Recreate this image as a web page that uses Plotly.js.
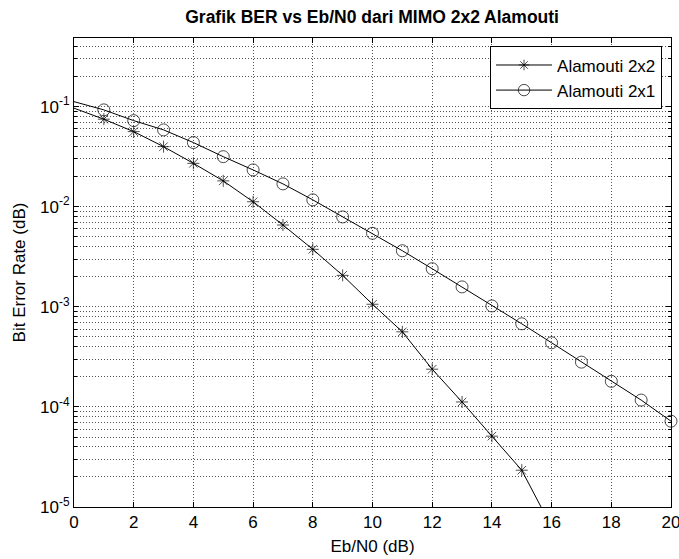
<!DOCTYPE html>
<html>
<head>
<meta charset="utf-8">
<script src="https://cdn.plot.ly/plotly-3.0.1.min.js"></script>
<style>html,body{margin:0;padding:0;background:#fff;}#chart{width:679px;height:559px;}</style>
</head>
<body>
<div id="chart"></div>
<script>
// Eb/N0 values (dB)
var ebno = [0,1,2,3,4,5,6,7,8,9,10,11,12,13,14,15,16,17,18,19,20];
// Alamouti 2x2 BER (last point falls below the visible range)
var ebno22 = [0,1,2,3,4,5,6,7,8,9,10,11,12,13,14,15,16];
var ber22 = [0.0964,0.0748,0.0562,0.0398,0.0271,0.0181,0.0112,0.00656,0.00375,0.00206,0.00106,0.000562,0.000238,0.000112,0.000051,0.0000233,0.0000063];
// Alamouti 2x1 BER
var ber21 = [0.112,0.0927,0.0724,0.0585,0.0437,0.0316,0.0233,0.0169,0.0117,0.0079,0.00542,0.00363,0.0024,0.00158,0.00102,0.000676,0.000437,0.00028,0.00018,0.000117,0.000072];
var xTicks = [0,2,4,6,8,10,12,14,16,18,20];
var yTickVals = [1e-5,1e-4,1e-3,1e-2,1e-1];
var yTickText = ['10<sup>-5</sup>','10<sup>-4</sup>','10<sup>-3</sup>','10<sup>-2</sup>','10<sup>-1</sup>'];
var seriesNames = ['Alamouti 2x2','Alamouti 2x1'];

var minorVals = [];
for (var e = -5; e <= -1; e++) {
  for (var m = 2; m <= 9; m++) {
    var v = m * Math.pow(10, e);
    if (v < 0.49) minorVals.push(v);
  }
}

var size22 = ebno22.map(function(x, i){ return (i === 0 || i === ebno22.length - 1) ? 0 : 10; });
var size21 = ebno.map(function(x, i){ return i === 0 ? 0 : 12; });

var font = 'Liberation Sans, Arial, sans-serif';
var traces = [
  {x: ebno22, y: ber22, name: seriesNames[0], type: 'scatter', mode: 'lines+markers',
   line: {color: '#000', width: 1},
   marker: {symbol: 'asterisk-open', size: size22, color: '#000', line: {color: '#000', width: 1}},
   cliponaxis: false},
  {x: ebno, y: ber21, name: seriesNames[1], type: 'scatter', mode: 'lines+markers',
   line: {color: '#000', width: 1},
   marker: {symbol: 'circle-open', size: size21, color: '#000', line: {color: '#000', width: 1}},
   cliponaxis: false}
];

var gridCol = '#555';
var gdash = '1px,2px';
var layout = {
  width: 679, height: 559,
  margin: {l: 74, r: 8, t: 38, b: 52},
  paper_bgcolor: '#fff', plot_bgcolor: '#fff',
  font: {family: font, size: 17, color: '#000'},
  title: {text: '<b>Grafik BER vs Eb/N0 dari MIMO 2x2 Alamouti</b>', font: {family: font, size: 17.5, color: '#000'},
          x: 0.548, xanchor: 'center', y: 0.969, yanchor: 'middle'},
  showlegend: true,
  legend: {x: 0.985, y: 0.982, xanchor: 'right', yanchor: 'top', bgcolor: '#fff',
           bordercolor: '#000', borderwidth: 1, font: {family: font, size: 17, color: '#000'},
           tracegroupgap: 0, itemwidth: 56},
  xaxis: {
    range: [0, 20], tickmode: 'array', tickvals: xTicks,
    showline: true, linecolor: '#000', linewidth: 1, mirror: 'allticks',
    ticks: 'inside', ticklen: 5, tickcolor: '#000',
    showgrid: true, gridcolor: gridCol, griddash: gdash, gridwidth: 1,
    zeroline: false, ticklabeloverflow: 'allow',
    tickfont: {family: font, size: 17, color: '#000'},
    title: {text: 'Eb/N0 (dB)', font: {family: font, size: 17, color: '#000'}, standoff: 8}
  },
  yaxis: {
    type: 'log', range: [-5, -0.315], tickmode: 'array', tickvals: yTickVals, ticktext: yTickText,
    showline: true, linecolor: '#000', linewidth: 1, mirror: 'allticks',
    ticks: 'inside', ticklen: 5, tickcolor: '#000',
    showgrid: true, gridcolor: gridCol, griddash: gdash, gridwidth: 1,
    zeroline: false,
    tickfont: {family: font, size: 17, color: '#000'},
    minor: {tickmode: 'array', tickvals: minorVals, ticks: 'inside', ticklen: 3, tickcolor: '#000',
            showgrid: true, gridcolor: gridCol, griddash: gdash, gridwidth: 1},
    title: {text: 'Bit Error Rate (dB)', font: {family: font, size: 17, color: '#000'}, standoff: 10}
  }
};

Plotly.newPlot('chart', traces, layout, {displayModeBar: false, staticPlot: true});
</script>
</body>
</html>
